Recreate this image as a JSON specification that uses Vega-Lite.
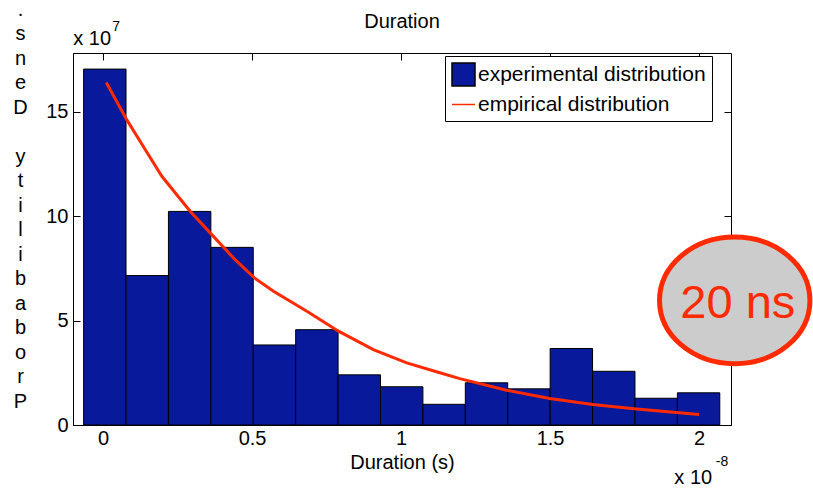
{
  "$schema": "https://vega.github.io/schema/vega-lite/v6.json",
  "width": 658,
  "height": 372,
  "autosize": "none",
  "padding": {"left": 73, "top": 53, "right": 82, "bottom": 63},
  "background": "white",
  "config": {
    "font": "Liberation Sans",
    "view": {"stroke": "black", "strokeWidth": 1},
    "axis": {
      "grid": false,
      "domainColor": "black",
      "domainWidth": 1,
      "tickColor": "black",
      "tickWidth": 1,
      "tickSize": -7,
      "labelColor": "black",
      "titleColor": "black",
      "labelFont": "Liberation Sans",
      "titleFont": "Liberation Sans",
      "labelFontSize": 20,
      "titleFontSize": 20,
      "titleFontWeight": "normal",
      "zindex": 0
    },
    "legend": {
      "title": null,
      "orient": "none",
      "legendX": 372,
      "legendY": 3,
      "strokeColor": "black",
      "fillColor": "white",
      "padding": 6,
      "symbolSize": 529,
      "symbolOpacity": 1,
      "symbolStrokeWidth": 1.5,
      "rowPadding": 3,
      "labelFont": "Liberation Sans",
      "labelFontSize": 21,
      "labelColor": "black",
      "labelOffset": 2,
      "labelLimit": 400
    }
  },
  "title": {
    "text": "Duration",
    "font": "Liberation Sans",
    "fontSize": 20,
    "fontWeight": "normal",
    "color": "black",
    "anchor": "middle",
    "frame": "group",
    "offset": 21,
    "dy": 54
  },
  "datasets": {
    "bins": [
      {"bin_start": -0.0651, "bin_end": 0.0772, "density": 17.03},
      {"bin_start": 0.0772, "bin_end": 0.2195, "density": 7.15},
      {"bin_start": 0.2195, "bin_end": 0.3618, "density": 10.22},
      {"bin_start": 0.3618, "bin_end": 0.5041, "density": 8.5},
      {"bin_start": 0.5041, "bin_end": 0.6464, "density": 3.83},
      {"bin_start": 0.6464, "bin_end": 0.7887, "density": 4.56},
      {"bin_start": 0.7887, "bin_end": 0.931, "density": 2.4},
      {"bin_start": 0.931, "bin_end": 1.0733, "density": 1.83},
      {"bin_start": 1.0733, "bin_end": 1.2156, "density": 0.99},
      {"bin_start": 1.2156, "bin_end": 1.3579, "density": 2.02},
      {"bin_start": 1.3579, "bin_end": 1.5002, "density": 1.73},
      {"bin_start": 1.5002, "bin_end": 1.6425, "density": 3.66},
      {"bin_start": 1.6425, "bin_end": 1.7848, "density": 2.57},
      {"bin_start": 1.7848, "bin_end": 1.9271, "density": 1.28},
      {"bin_start": 1.9271, "bin_end": 2.0694, "density": 1.54}
    ],
    "fit": [
      {"duration": 0.011, "density": 16.39},
      {"duration": 0.08, "density": 14.6},
      {"duration": 0.142, "density": 13.17},
      {"duration": 0.198, "density": 11.89},
      {"duration": 0.293, "density": 10.22},
      {"duration": 0.365, "density": 9.11},
      {"duration": 0.443, "density": 7.91},
      {"duration": 0.508, "density": 7.04},
      {"duration": 0.572, "density": 6.4},
      {"duration": 0.684, "density": 5.44},
      {"duration": 0.79, "density": 4.49},
      {"duration": 0.907, "density": 3.61},
      {"duration": 1.019, "density": 2.97},
      {"duration": 1.13, "density": 2.5},
      {"duration": 1.197, "density": 2.22},
      {"duration": 1.354, "density": 1.66},
      {"duration": 1.499, "density": 1.27},
      {"duration": 1.643, "density": 0.98},
      {"duration": 1.79, "density": 0.77},
      {"duration": 2.0, "density": 0.5}
    ],
    "series": [
      {"series": "experimental distribution"},
      {"series": "empirical distribution"}
    ]
  },
  "layer": [
    {
      "data": {"name": "bins"},
      "mark": {"type": "bar", "stroke": "black", "strokeWidth": 1},
      "encoding": {
        "x": {
          "field": "bin_start",
          "type": "quantitative",
          "scale": {"domain": [-0.1007, 2.107], "nice": false, "zero": false},
          "axis": {
            "orient": "bottom",
            "values": [0, 0.5, 1, 1.5, 2],
            "format": "~g",
            "title": "Duration (s)",
            "labelPadding": 10,
            "titleBaseline": "top",
            "titleY": 27
          }
        },
        "x2": {"field": "bin_end"},
        "y": {
          "field": "density",
          "type": "quantitative",
          "scale": {"domain": [0, 17.8], "nice": false, "zero": false},
          "axis": {
            "orient": "left",
            "values": [0, 5, 10, 15],
            "format": "d",
            "labelPadding": 12,
            "title": [".", "s", "n", "e", "D", "\u200b", "y", "t", "i", "l", "i", "b", "a", "b", "o", "r", "P"],
            "titleAngle": 0,
            "titleAlign": "center",
            "titleBaseline": "top",
            "titleLineHeight": 24.5,
            "titleX": -53,
            "titleY": -54
          }
        },
        "y2": {"datum": 0},
        "fill": {
          "datum": "experimental distribution",
          "type": "nominal",
          "scale": {
            "domain": ["experimental distribution", "empirical distribution"],
            "range": ["#08199c", "#ff2a00"]
          }
        }
      }
    },
    {
      "data": {"name": "fit"},
      "mark": {"type": "line", "strokeWidth": 3},
      "encoding": {
        "x": {
          "field": "duration",
          "type": "quantitative",
          "axis": {"orient": "top", "values": [0, 0.5, 1, 1.5, 2], "labels": false, "title": null, "domain": false}
        },
        "y": {
          "field": "density",
          "type": "quantitative",
          "axis": {"orient": "right", "values": [0, 5, 10, 15], "labels": false, "title": null, "domain": false}
        },
        "stroke": {
          "datum": "empirical distribution",
          "type": "nominal",
          "scale": {
            "domain": ["experimental distribution", "empirical distribution"],
            "range": ["black", "#ff2a00"]
          }
        }
      }
    },
    {
      "data": {"name": "series"},
      "mark": {"type": "point", "filled": true, "opacity": 0},
      "encoding": {
        "fill": {"field": "series", "type": "nominal"},
        "stroke": {"field": "series", "type": "nominal"},
        "shape": {
          "field": "series",
          "type": "nominal",
          "scale": {
            "domain": ["experimental distribution", "empirical distribution"],
            "range": ["square", "stroke"]
          }
        }
      }
    },
    {
      "data": {"values": [{}]},
      "mark": {
        "type": "point",
        "shape": "M -1 0 A 1 0.842 0 1 1 1 0 A 1 0.842 0 1 1 -1 0 Z",
        "size": 22620,
        "filled": true,
        "fill": "#cccccc",
        "stroke": "#ff2a00",
        "strokeWidth": 5,
        "opacity": 1,
        "fillOpacity": 1,
        "strokeOpacity": 1
      },
      "encoding": {
        "x": {"datum": 2.1195, "type": "quantitative", "axis": null},
        "y": {"datum": 5.961, "type": "quantitative", "axis": null}
      }
    },
    {
      "data": {"values": [{}]},
      "mark": {"type": "text", "text": "20 ns", "font": "Liberation Sans", "fontSize": 47, "fill": "#ff2a00", "align": "center", "baseline": "alphabetic"},
      "encoding": {
        "x": {"datum": 2.13, "type": "quantitative", "axis": null},
        "y": {"datum": 5.12, "type": "quantitative", "axis": null}
      }
    },
    {
      "data": {"values": [{}]},
      "mark": {"type": "text", "text": "x 10", "font": "Liberation Sans", "fontSize": 20, "fill": "black", "align": "left", "baseline": "alphabetic"},
      "encoding": {
        "x": {"datum": -0.1, "type": "quantitative", "axis": null},
        "y": {"datum": 18.19, "type": "quantitative", "axis": null}
      }
    },
    {
      "data": {"values": [{}]},
      "mark": {"type": "text", "text": "7", "font": "Liberation Sans", "fontSize": 14, "fill": "black", "align": "left", "baseline": "alphabetic"},
      "encoding": {
        "x": {"datum": 0.031, "type": "quantitative", "axis": null},
        "y": {"datum": 18.86, "type": "quantitative", "axis": null}
      }
    },
    {
      "data": {"values": [{}]},
      "mark": {"type": "text", "text": "x 10", "font": "Liberation Sans", "fontSize": 20, "fill": "black", "align": "left", "baseline": "alphabetic"},
      "encoding": {
        "x": {"datum": 1.917, "type": "quantitative", "axis": null},
        "y": {"datum": -2.84, "type": "quantitative", "axis": null}
      }
    },
    {
      "data": {"values": [{}]},
      "mark": {"type": "text", "text": "-8", "font": "Liberation Sans", "fontSize": 14, "fill": "black", "align": "left", "baseline": "alphabetic"},
      "encoding": {
        "x": {"datum": 2.056, "type": "quantitative", "axis": null},
        "y": {"datum": -1.98, "type": "quantitative", "axis": null}
      }
    }
  ],
  "resolve": {"axis": {"x": "independent", "y": "independent"}}
}
